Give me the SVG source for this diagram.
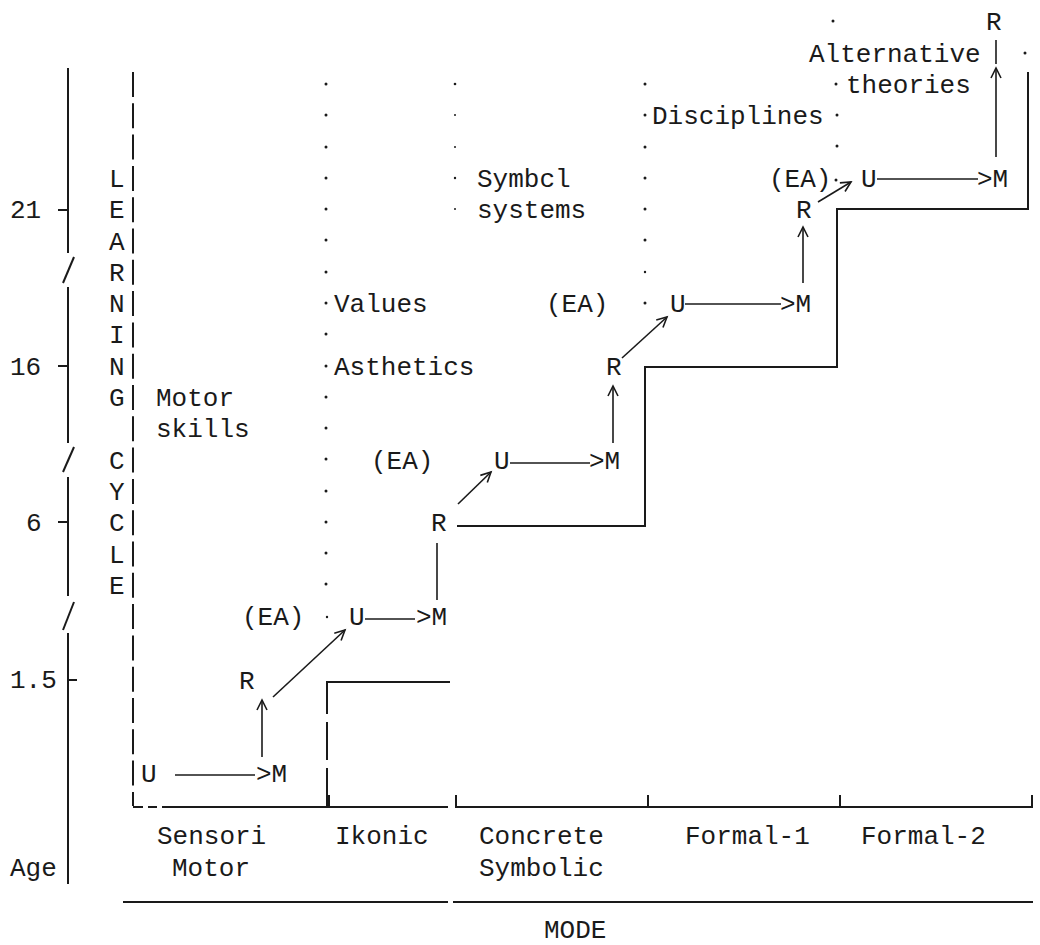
<svg xmlns="http://www.w3.org/2000/svg" width="1040" height="945" viewBox="0 0 1040 945">
<style>
text{font-family:"Liberation Mono","Courier New",monospace;font-size:26px;fill:#1a1a1a}
.ln{stroke:#1a1a1a;stroke-width:2;fill:none}
.th{stroke:#1a1a1a;stroke-width:1.6;fill:none}
.dot{fill:#1a1a1a}
</style>
<defs>
<marker id="ah" markerUnits="userSpaceOnUse" markerWidth="14" markerHeight="14" refX="11" refY="6" orient="auto">
<path d="M1,1 L11,6 L1,11" fill="none" stroke="#1a1a1a" stroke-width="1.6"/>
</marker>
</defs>
<rect width="1040" height="945" fill="#fff"/>

<g id="age-axis">
<line class="ln" x1="68" y1="68" x2="68" y2="253"/>
<line class="ln" x1="63" y1="283" x2="74" y2="257"/>
<line class="ln" x1="68" y1="287" x2="68" y2="443"/>
<line class="ln" x1="63" y1="472" x2="74" y2="447"/>
<line class="ln" x1="68" y1="477" x2="68" y2="596"/>
<line class="ln" x1="63" y1="630" x2="74" y2="602"/>
<line class="ln" x1="68" y1="633" x2="68" y2="884"/>
<line class="ln" x1="58" y1="210" x2="68" y2="210"/>
<line class="ln" x1="58" y1="366" x2="68" y2="366"/>
<line class="ln" x1="58" y1="522" x2="68" y2="522"/>
<line class="ln" x1="68" y1="680" x2="77" y2="680"/>
<text x="10" y="218">21</text>
<text x="10" y="375">16</text>
<text x="26" y="531">6</text>
<text x="10" y="688">1.5</text>
<text x="10" y="876">Age</text>
</g>

<g id="learning-cycle">
<text x="109" y="187">L</text>
<text x="109" y="218">E</text>
<text x="109" y="250">A</text>
<text x="109" y="281">R</text>
<text x="109" y="312">N</text>
<text x="109" y="343">I</text>
<text x="109" y="375">N</text>
<text x="109" y="406">G</text>
<text x="109" y="469">C</text>
<text x="109" y="500">Y</text>
<text x="109" y="531">C</text>
<text x="109" y="563">L</text>
<text x="109" y="594">E</text>
</g>

<g id="frame">
<line class="ln" x1="133" y1="72" x2="133" y2="806" stroke-dasharray="25 6.3"/>
<line class="ln" x1="133" y1="807" x2="143" y2="807"/>
<line class="ln" x1="148" y1="807" x2="157" y2="807"/>
<line class="ln" x1="162" y1="807" x2="448" y2="807"/>
<line class="ln" x1="455" y1="807" x2="1033" y2="807"/>
<line class="ln" x1="329" y1="795" x2="329" y2="807"/>
<line class="ln" x1="456" y1="795" x2="456" y2="807"/>
<line class="ln" x1="648" y1="795" x2="648" y2="807"/>
<line class="ln" x1="840" y1="795" x2="840" y2="807"/>
<line class="ln" x1="1032" y1="795" x2="1032" y2="807"/>
<line class="ln" x1="123" y1="902" x2="448" y2="902"/>
<line class="ln" x1="453" y1="902" x2="1033" y2="902"/>
</g>

<g id="dots">
<circle class="dot" cx="326" cy="84" r="1.5"/><circle class="dot" cx="326" cy="115" r="1.5"/><circle class="dot" cx="326" cy="147" r="1.5"/><circle class="dot" cx="326" cy="178" r="1.5"/><circle class="dot" cx="326" cy="209" r="1.5"/><circle class="dot" cx="326" cy="240" r="1.5"/><circle class="dot" cx="326" cy="272" r="1.5"/><circle class="dot" cx="326" cy="303" r="1.5"/><circle class="dot" cx="326" cy="334" r="1.5"/><circle class="dot" cx="326" cy="366" r="1.5"/><circle class="dot" cx="326" cy="397" r="1.5"/><circle class="dot" cx="326" cy="428" r="1.5"/><circle class="dot" cx="326" cy="459" r="1.5"/><circle class="dot" cx="326" cy="491" r="1.5"/><circle class="dot" cx="326" cy="522" r="1.5"/><circle class="dot" cx="326" cy="553" r="1.5"/><circle class="dot" cx="326" cy="584" r="1.5"/><circle class="dot" cx="327" cy="617" r="1.2"/>
<circle class="dot" cx="455" cy="84" r="1.3"/><circle class="dot" cx="455" cy="115" r="1"/><circle class="dot" cx="455" cy="147" r="1"/><circle class="dot" cx="455" cy="178" r="1.2"/><circle class="dot" cx="455" cy="209" r="1"/>
<circle class="dot" cx="645" cy="84" r="1.5"/><circle class="dot" cx="645" cy="115" r="1.5"/><circle class="dot" cx="645" cy="147" r="1.5"/><circle class="dot" cx="645" cy="178" r="1.5"/><circle class="dot" cx="645" cy="209" r="1.5"/><circle class="dot" cx="645" cy="240" r="1.5"/><circle class="dot" cx="645" cy="272" r="1.2"/><circle class="dot" cx="645" cy="303" r="1.5"/>
<circle class="dot" cx="833" cy="21" r="1.5"/><circle class="dot" cx="836" cy="84" r="1.5"/><circle class="dot" cx="837" cy="115" r="1.5"/><circle class="dot" cx="837" cy="146" r="1.5"/><circle class="dot" cx="836" cy="180" r="1.5"/>
<circle class="dot" cx="1025" cy="53" r="1.5"/>
</g>

<g id="regions">
<text x="156" y="406">Motor</text>
<text x="156" y="437">skills</text>
<text x="334" y="312">Values</text>
<text x="334" y="375">Asthetics</text>
<text x="477" y="187">Symbcl</text>
<text x="477" y="218">systems</text>
<text x="652" y="124">Disciplines</text>
<text x="809" y="62">Alternative</text>
<text x="846" y="93">theories</text>
</g>

<g id="steps">
<polyline class="ln" points="457,526 645,526 645,367 837,367 837,209 1028,209 1028,72"/>
<line class="ln" x1="327" y1="806" x2="327" y2="682" stroke-dasharray="38 8"/>
<line class="ln" x1="326" y1="682" x2="450" y2="682"/>
</g>

<g id="cycle-sensori">
<text x="141" y="782">U</text>
<text x="256" y="782">&gt;M</text>
<text x="239" y="689">R</text>
<text x="242" y="625">(EA)</text>
</g>
<g id="cycle-ikonic">
<text x="349" y="625">U</text>
<text x="416" y="625">&gt;M</text>
<text x="431" y="531">R</text>
<text x="371" y="469">(EA)</text>
</g>
<g id="cycle-concrete">
<text x="494" y="469">U</text>
<text x="589" y="469">&gt;M</text>
<text x="606" y="375">R</text>
<text x="546" y="312">(EA)</text>
</g>
<g id="cycle-formal1">
<text x="670" y="312">U</text>
<text x="780" y="312">&gt;M</text>
<text x="796" y="218">R</text>
<text x="769" y="187">(EA)</text>
</g>
<g id="cycle-formal2">
<text x="861" y="187">U</text>
<text x="977" y="187">&gt;M</text>
<text x="986" y="30">R</text>
</g>

<g id="connectors">
<line class="th" x1="175" y1="775" x2="255" y2="775"/>
<line class="th" x1="262" y1="757" x2="262" y2="700" marker-end="url(#ah)"/>
<line class="th" x1="273" y1="697" x2="345" y2="630" marker-end="url(#ah)"/>
<line class="th" x1="365" y1="619" x2="415" y2="619"/>
<line class="th" x1="437" y1="600" x2="437" y2="543"/>
<line class="th" x1="458" y1="504" x2="491" y2="472" marker-end="url(#ah)"/>
<line class="th" x1="510" y1="463" x2="590" y2="463"/>
<line class="th" x1="613" y1="443" x2="613" y2="386" marker-end="url(#ah)"/>
<line class="th" x1="622" y1="358" x2="667" y2="317" marker-end="url(#ah)"/>
<line class="th" x1="685" y1="304" x2="781" y2="304"/>
<line class="th" x1="803" y1="283" x2="803" y2="227" marker-end="url(#ah)"/>
<line class="th" x1="818" y1="202" x2="851" y2="182" marker-end="url(#ah)"/>
<line class="th" x1="877" y1="179" x2="978" y2="179"/>
<line class="th" x1="996" y1="157" x2="996" y2="68" marker-end="url(#ah)"/>
<line class="th" x1="996" y1="64" x2="996" y2="40"/>
</g>

<g id="modes">
<text x="157" y="844">Sensori</text>
<text x="172" y="876">Motor</text>
<text x="335" y="844">Ikonic</text>
<text x="479" y="844">Concrete</text>
<text x="479" y="876">Symbolic</text>
<text x="685" y="844">Formal-1</text>
<text x="861" y="844">Formal-2</text>
<text x="544" y="938">MODE</text>
</g>
</svg>
